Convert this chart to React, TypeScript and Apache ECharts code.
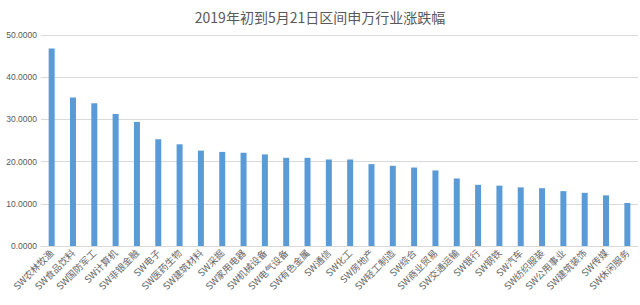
import React, { useEffect, useRef } from "react";
import * as echarts from "echarts";

const title = "2019年初到5月21日区间申万行业涨跌幅";

const categories = [
  "SW农林牧渔", "SW食品饮料", "SW国防军工", "SW计算机", "SW非银金融", "SW电子",
  "SW医药生物", "SW建筑材料", "SW采掘", "SW家用电器", "SW机械设备", "SW电气设备",
  "SW有色金属", "SW通信", "SW化工", "SW房地产", "SW轻工制造", "SW综合",
  "SW商业贸易", "SW交通运输", "SW银行", "SW钢铁", "SW汽车", "SW纺织服装",
  "SW公用事业", "SW建筑装饰", "SW传媒", "SW休闲服务",
];

const values = [
  46.8, 35.2, 33.8, 31.3, 29.4, 25.3,
  24.1, 22.6, 22.3, 22.1, 21.7, 20.9,
  20.9, 20.5, 20.5, 19.4, 19.0, 18.6,
  17.9, 16.0, 14.5, 14.3, 13.9, 13.7,
  13.0, 12.6, 12.0, 10.2,
];

const yTicks = [0, 10, 20, 30, 40, 50];

export default function App() {
  const ref = useRef<HTMLDivElement>(null);
  useEffect(() => {
    if (!ref.current) return;
    const chart = echarts.init(ref.current, null, { renderer: "svg" });
    const font = "'Noto Sans CJK SC', 'Noto Sans', sans-serif";
    chart.setOption({
      animation: false,
      backgroundColor: "#ffffff",
      title: {
        text: title,
        left: "center",
        top: 5,
        textStyle: { fontFamily: font, fontSize: 14, fontWeight: "normal", color: "#595959" },
      },
      grid: { left: 41, right: 2, top: 35, bottom: 59, outerBoundsMode: "none" },
      xAxis: {
        type: "category",
        data: categories,
        axisLine: { show: true, lineStyle: { color: "#D9D9D9" } },
        axisTick: { show: false },
        axisLabel: {
          interval: 0,
          rotate: 45,
          fontFamily: font,
          fontSize: 9.5,
          color: "#666666",
          margin: 5,
        },
      },
      yAxis: {
        type: "value",
        min: yTicks[0],
        max: yTicks[yTicks.length - 1],
        interval: 10,
        axisLine: { show: false },
        axisTick: { show: false },
        splitLine: { lineStyle: { color: "#D9D9D9" } },
        axisLabel: {
          fontFamily: "'Liberation Sans', Arial, sans-serif",
          fontSize: 8.5,
          color: "#595959",
          margin: 4,
          formatter: (v: number) => v.toFixed(4),
        },
      },
      series: [
        {
          type: "bar",
          data: values,
          barWidth: 6,
          itemStyle: { color: "#5B9BD5" },
        },
      ],
    });
    return () => chart.dispose();
  }, []);
  return (
    <div style={{ position: "absolute", left: 0, top: 0, width: 640, height: 305 }}>
      <div ref={ref} style={{ width: 640, height: 305 }} />
    </div>
  );
}
